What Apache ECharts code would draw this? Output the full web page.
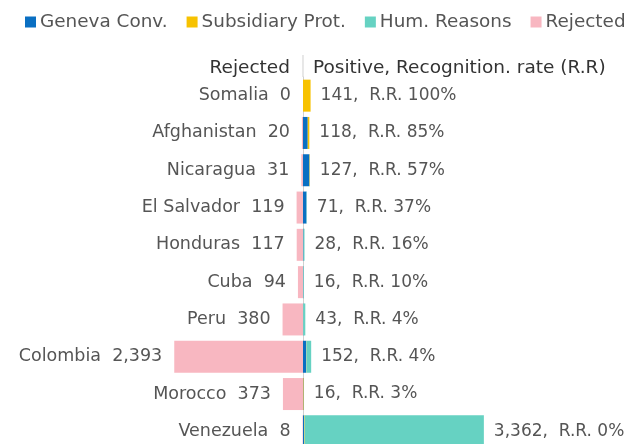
<!DOCTYPE html>
<html><head><meta charset="utf-8">
<script src="https://cdn.jsdelivr.net/npm/echarts@6/dist/echarts.min.js"></script>
<style>html,body{margin:0;padding:0;background:#fff;overflow:hidden;width:633px;height:444px}#c{width:633px;height:456px}</style>
</head><body><div id="c"></div>
<script>
const countries = ["Somalia","Afghanistan","Nicaragua","El Salvador","Honduras","Cuba","Peru","Colombia","Morocco","Venezuela"];
const rejected = [0,20,31,119,117,94,380,2393,373,8];
const geneva = [0,88,120,65,10,6,5,60,8,20];
const subsidiary = [141,30,7,0,0,0,0,5,8,10];
const humReasons = [0,0,0,6,18,10,38,87,0,3332];
const totals = [141,118,127,71,28,16,43,152,16,3362];
const recRate = [100,85,57,37,16,10,4,4,3,0];

const FONT = "DejaVu Sans";
const fmt = v => v.toLocaleString('en-US');
const chart = echarts.init(document.getElementById('c'));
const C = {g:'#0a6fc2', s:'#f7c200', h:'#66d2c2', r:'#f8b7c1'};
const option = {
  animation:false,
  textStyle:{fontFamily:FONT},
  legend:{
    top:8, left:20, width:800, itemWidth:11, itemHeight:11, itemGap:19, icon:'rect',
    textStyle:{fontFamily:FONT, fontSize:18.4, color:'#555', padding:[0,0,0,-1]},
    data:['Geneva Conv.','Subsidiary Prot.','Hum. Reasons','Rejected']
  },
  grid:{left:0, right:0, top:77, height:373, containLabel:false},
  xAxis:{type:'value', min:-5632, max:6134, show:false},
  yAxis:{type:'category', inverse:true, data:countries,
    axisLine:{show:true, onZero:true, lineStyle:{color:'#d0d0d0', width:1}},
    axisTick:{show:false}, axisLabel:{show:false}, splitLine:{show:false}},
  series:[
    {name:'Rejected', type:'bar', stack:'all', barWidth:32, itemStyle:{color:C.r},
     data:rejected.map(v=>-v),
     label:{show:true, position:'left', distance:12, fontFamily:FONT, fontSize:17.5, color:'#555',
       formatter:p=>countries[p.dataIndex]+'  '+fmt(rejected[p.dataIndex])}},
    {name:'Geneva Conv.', type:'bar', stack:'all', barWidth:32, itemStyle:{color:C.g}, data:geneva},
    {name:'Subsidiary Prot.', type:'bar', stack:'all', barWidth:32, itemStyle:{color:C.s}, data:subsidiary},
    {name:'Hum. Reasons', type:'bar', stack:'all', barWidth:32, itemStyle:{color:C.h}, data:humReasons,
     label:{show:true, position:'right', distance:10, fontFamily:FONT, fontSize:17, color:'#555',
       formatter:p=>fmt(totals[p.dataIndex])+',  R.R. '+recRate[p.dataIndex]+'%'}}
  ]
};
chart.setOption(option);
const x0 = chart.convertToPixel({xAxisIndex:0}, 0);
chart.setOption({graphic:[
  {type:'line', shape:{x1:x0, y1:55, x2:x0, y2:77}, style:{stroke:'#d0d0d0', lineWidth:1}},
  {type:'text', x:x0-13, y:68, style:{text:'Rejected', align:'right', verticalAlign:'middle', font:'18.5px "'+FONT+'"', fill:'#333'}},
  {type:'text', x:x0+10, y:68, style:{text:'Positive, Recognition. rate (R.R)', align:'left', verticalAlign:'middle', font:'18.5px "'+FONT+'"', fill:'#333'}}
]});
</script></body></html>
